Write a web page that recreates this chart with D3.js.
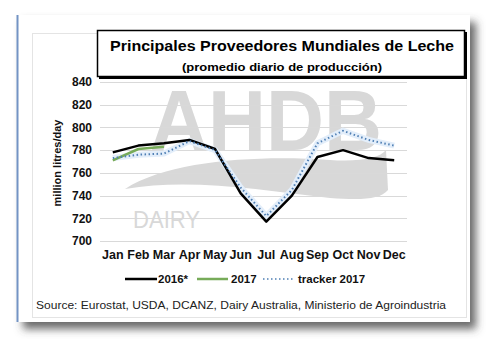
<!DOCTYPE html>
<html lang="es">
<head>
<meta charset="utf-8">
<title>Principales Proveedores Mundiales de Leche</title>
<script src="https://cdn.jsdelivr.net/npm/d3@7"></script>
<style>
  body { margin: 0; background: #fff; }
  text { font-family: "Liberation Sans", Arial, sans-serif; }
</style>
</head>
<body>
<div id="chart"></div>
<script>
// datos
var months = ["Jan", "Feb", "Mar", "Apr", "May", "Jun", "Jul", "Aug", "Sep", "Oct", "Nov", "Dec"];
var y2016 = [778, 784, 786, 789, 781, 742, 717, 740, 774, 780, 773, 771];
var y2017 = [771, 781, 783];
var tracker2017 = [773, 776, 777, 788, 780, 747, 722, 745, 786, 797, 789, 784];
var yTicks = [700, 720, 740, 760, 780, 800, 820, 840];

var w = 499, h = 352;
var svg = d3.select("#chart").append("svg")
    .attr("width", w)
    .attr("height", h);

var defs = svg.append("defs");
var f = defs.append("filter").attr("id", "shadow")
    .attr("x", "-5%").attr("y", "-5%").attr("width", "115%").attr("height", "115%");
f.append("feDropShadow").attr("dx", 6).attr("dy", 7).attr("stdDeviation", 4)
    .attr("flood-color", "#444").attr("flood-opacity", 0.8);

// tarjeta
svg.append("rect")
    .attr("x", 17).attr("y", 15).attr("width", 453).attr("height", 307)
    .attr("fill", "#fff")
    .attr("filter", "url(#shadow)");
svg.append("line")
    .attr("x1", 17.5).attr("x2", 17.5).attr("y1", 15).attr("y2", 322)
    .attr("stroke", "#7393c4").attr("stroke-width", 2);
svg.append("rect")
    .attr("x", 32.5).attr("y", 33.5).attr("width", 434).attr("height", 284)
    .attr("fill", "none").attr("stroke", "#e4e4e4");

// escalas
var x = d3.scaleBand().domain(months).range([100, 407]);
var y = d3.scaleLinear().domain([700, 840]).range([241, 82]);
var cx = function(m) { return x(m) + x.bandwidth() / 2; };

// marca de agua
var wm = svg.append("g").attr("fill", "#d8d8d8");
wm.append("text")
    .attr("x", 266).attr("y", 150)
    .attr("text-anchor", "middle")
    .attr("font-size", 86).attr("font-weight", "bold")
    .attr("textLength", 232).attr("lengthAdjust", "spacingAndGlyphs")
    .text("AHDB");
wm.append("path")
    .attr("d", "M125,189 C170,160 260,155 330,160 C360,162 380,158 386,150 L388,190 C380,200 360,200 330,198 C260,190 190,178 125,189 Z");
wm.append("text")
    .attr("x", 133).attr("y", 228)
    .attr("font-size", 24)
    .attr("textLength", 67).attr("lengthAdjust", "spacingAndGlyphs")
    .text("DAIRY");

// rejilla
svg.append("g")
    .selectAll("line")
    .data(yTicks)
    .enter()
    .append("line")
    .attr("x1", 100).attr("x2", 407)
    .attr("y1", function(d) { return Math.round(y(d)) + 0.5; })
    .attr("y2", function(d) { return Math.round(y(d)) + 0.5; })
    .attr("stroke", "#d9d9d9");

// ejes
var yAxis = d3.axisLeft(y).tickValues(yTicks).tickSize(0).tickPadding(8);
svg.append("g")
    .attr("transform", "translate(100,0)")
    .call(yAxis)
    .call(function(g) { g.select(".domain").remove(); })
    .selectAll("text")
    .attr("font-size", 12).attr("font-weight", "bold").attr("fill", "#111")
    .style("font-family", "Liberation Sans, Arial, sans-serif");

var xAxis = d3.axisBottom(x).tickSize(0).tickPadding(9);
svg.append("g")
    .attr("transform", "translate(0,241)")
    .call(xAxis)
    .call(function(g) { g.select(".domain").remove(); })
    .selectAll("text")
    .attr("font-size", 12.5).attr("font-weight", "bold").attr("fill", "#111")
    .style("font-family", "Liberation Sans, Arial, sans-serif");

svg.append("text")
    .attr("transform", "translate(61,163) rotate(-90)")
    .attr("text-anchor", "middle")
    .attr("font-size", 11).attr("font-weight", "bold").attr("fill", "#111")
    .text("million litres/day");

// lineas
var line = d3.line()
    .x(function(d, i) { return cx(months[i]); })
    .y(function(d) { return y(d); });

svg.append("path").datum(tracker2017)
    .attr("d", line).attr("fill", "none")
    .attr("stroke", "#e3eefa").attr("stroke-width", 6);
svg.append("path").datum(y2016)
    .attr("d", line).attr("fill", "none")
    .attr("stroke", "#000").attr("stroke-width", 2.5)
    .attr("stroke-linejoin", "round");
svg.append("path").datum(y2017)
    .attr("d", line).attr("fill", "none")
    .attr("stroke", "#77ab59").attr("stroke-width", 2.5)
    .attr("stroke-linejoin", "round");
svg.append("path").datum(tracker2017)
    .attr("d", line).attr("fill", "none")
    .attr("stroke", "#4f7fb4").attr("stroke-width", 2)
    .attr("stroke-dasharray", "1.5,2.5")
    .attr("stroke-linecap", "butt");

// titulo
svg.append("rect")
    .attr("x", 99).attr("y", 32).attr("width", 368).attr("height", 47)
    .attr("fill", "#000");
svg.append("rect")
    .attr("x", 97.5).attr("y", 30.5).attr("width", 367).attr("height", 46)
    .attr("fill", "#fff").attr("stroke", "#000").attr("stroke-width", 1.5);
svg.append("text")
    .attr("x", 282).attr("y", 51)
    .attr("text-anchor", "middle")
    .attr("font-size", 14).attr("font-weight", "bold")
    .attr("textLength", 344).attr("lengthAdjust", "spacingAndGlyphs")
    .text("Principales Proveedores Mundiales de Leche");
svg.append("text")
    .attr("x", 282).attr("y", 71)
    .attr("text-anchor", "middle")
    .attr("font-size", 11.5).attr("font-weight", "bold")
    .attr("textLength", 200).attr("lengthAdjust", "spacingAndGlyphs")
    .text("(promedio diario de producción)");

// leyenda
var legend = [
    { name: "2016*", color: "#000", dash: null, x1: 125, x2: 157, tx: 158 },
    { name: "2017", color: "#77ab59", dash: null, x1: 197, x2: 228, tx: 231 },
    { name: "tracker 2017", color: "#4f7fb4", dash: "1.5,2.5", x1: 263, x2: 294, tx: 298 }
];
var lg = svg.append("g").selectAll("g").data(legend).enter().append("g");
lg.append("line")
    .attr("x1", function(d) { return d.x1; })
    .attr("x2", function(d) { return d.x2; })
    .attr("y1", 279).attr("y2", 279)
    .attr("stroke", function(d) { return d.color; })
    .attr("stroke-width", function(d) { return d.dash ? 1.5 : 2.5; })
    .attr("stroke-dasharray", function(d) { return d.dash; });
lg.append("text")
    .attr("x", function(d) { return d.tx; })
    .attr("y", 283)
    .attr("font-size", 11.5).attr("font-weight", "bold").attr("fill", "#111")
    .text(function(d) { return d.name; });

// fuente
svg.append("text")
    .attr("x", 36).attr("y", 309)
    .attr("font-size", 11.5).attr("fill", "#222")
    .attr("textLength", 410).attr("lengthAdjust", "spacingAndGlyphs")
    .text("Source: Eurostat, USDA, DCANZ,  Dairy Australia, Ministerio de Agroindustria");
</script>
</body>
</html>
